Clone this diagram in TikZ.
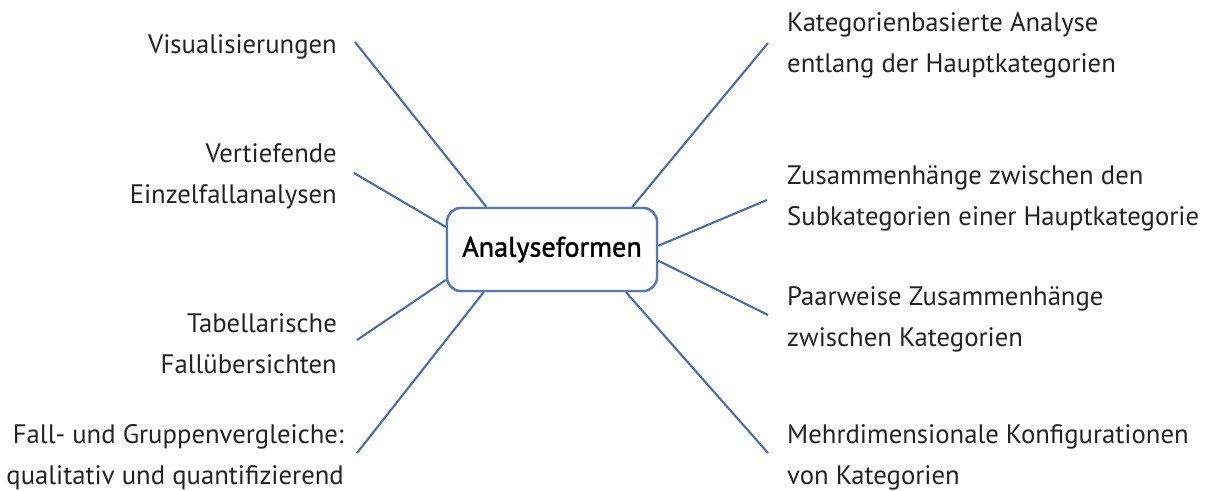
\documentclass[tikz,border=0pt]{standalone}
\usepackage{fontspec}
\setmainfont{PT Sans}
\definecolor{linkblue}{HTML}{4A6DA7}
\definecolor{boxblue}{HTML}{5879B4}
\definecolor{txt}{HTML}{222222}
\begin{document}
\begin{tikzpicture}[x=1pt,y=-1pt,
  link/.style={draw=linkblue,line width=2.1pt},
  lbl/.style={inner sep=0pt,text=txt,font=\fontsize{26.7}{41}\selectfont},
  lbll/.style={lbl,anchor=east,align=right},
  lblr/.style={lbl,anchor=west,align=left},
  hub/.style={draw=boxblue,line width=2.4pt,rounded corners=14pt,fill=white,
    minimum width=210pt,minimum height=83pt,inner sep=0pt,text=black,
    font=\fontsize{28.2}{30}\selectfont\addfontfeature{FakeBold=1.4}}]
\useasboundingbox (0,0) rectangle (1209,490);
\node[hub] (box) at (552,249.5) {Analyseformen};
% left labels
\node[lbll] (vis) at (337,47) {Visualisierungen};
\node[lbll] (vert) at (337,176.5) {Vertiefende\\Einzelfallanalysen};
\node[lbll] (tab) at (337,344) {Tabellarische\\Fallübersichten};
\node[lbll] (fall) at (344,457) {Fall- und Gruppenvergleiche:\\qualitativ und quantifizierend};
% right labels
\node[lblr] (kat) at (787,45.5) {Kategorienbasierte Analyse\\entlang der Hauptkategorien};
\node[lblr] (zus) at (787,198) {Zusammenhänge zwischen den\\Subkategorien einer Hauptkategorie};
\node[lblr] (paar) at (787,319.5) {Paarweise Zusammenhänge\\zwischen Kategorien};
\node[lblr] (mehr) at (787,457) {Mehrdimensionale Konfigurationen\\von Kategorien};
% free ends
\coordinate (e1) at (355,42);
\coordinate (e2) at (354,173);
\coordinate (e3) at (357,340);
\coordinate (e4) at (357,453);
\coordinate (e5) at (768,43);
\coordinate (e6) at (767,200);
\coordinate (e7) at (768,315);
\coordinate (e8) at (768,453);
\draw[link] (e1) -- (box.147.8);
\draw[link] (e2) -- (box.168.7);
\draw[link] (e3) -- (box.196.2);
\draw[link] (e4) -- (box.212.1);
\draw[link] (e5) -- (box.28.7);
\draw[link] (e6) -- (box.2.2);
\draw[link] (e7) -- (box.354.1);
\draw[link] (e8) -- (box.330.8);
\node[hub] at (box) {Analyseformen};
\end{tikzpicture}
\end{document}
